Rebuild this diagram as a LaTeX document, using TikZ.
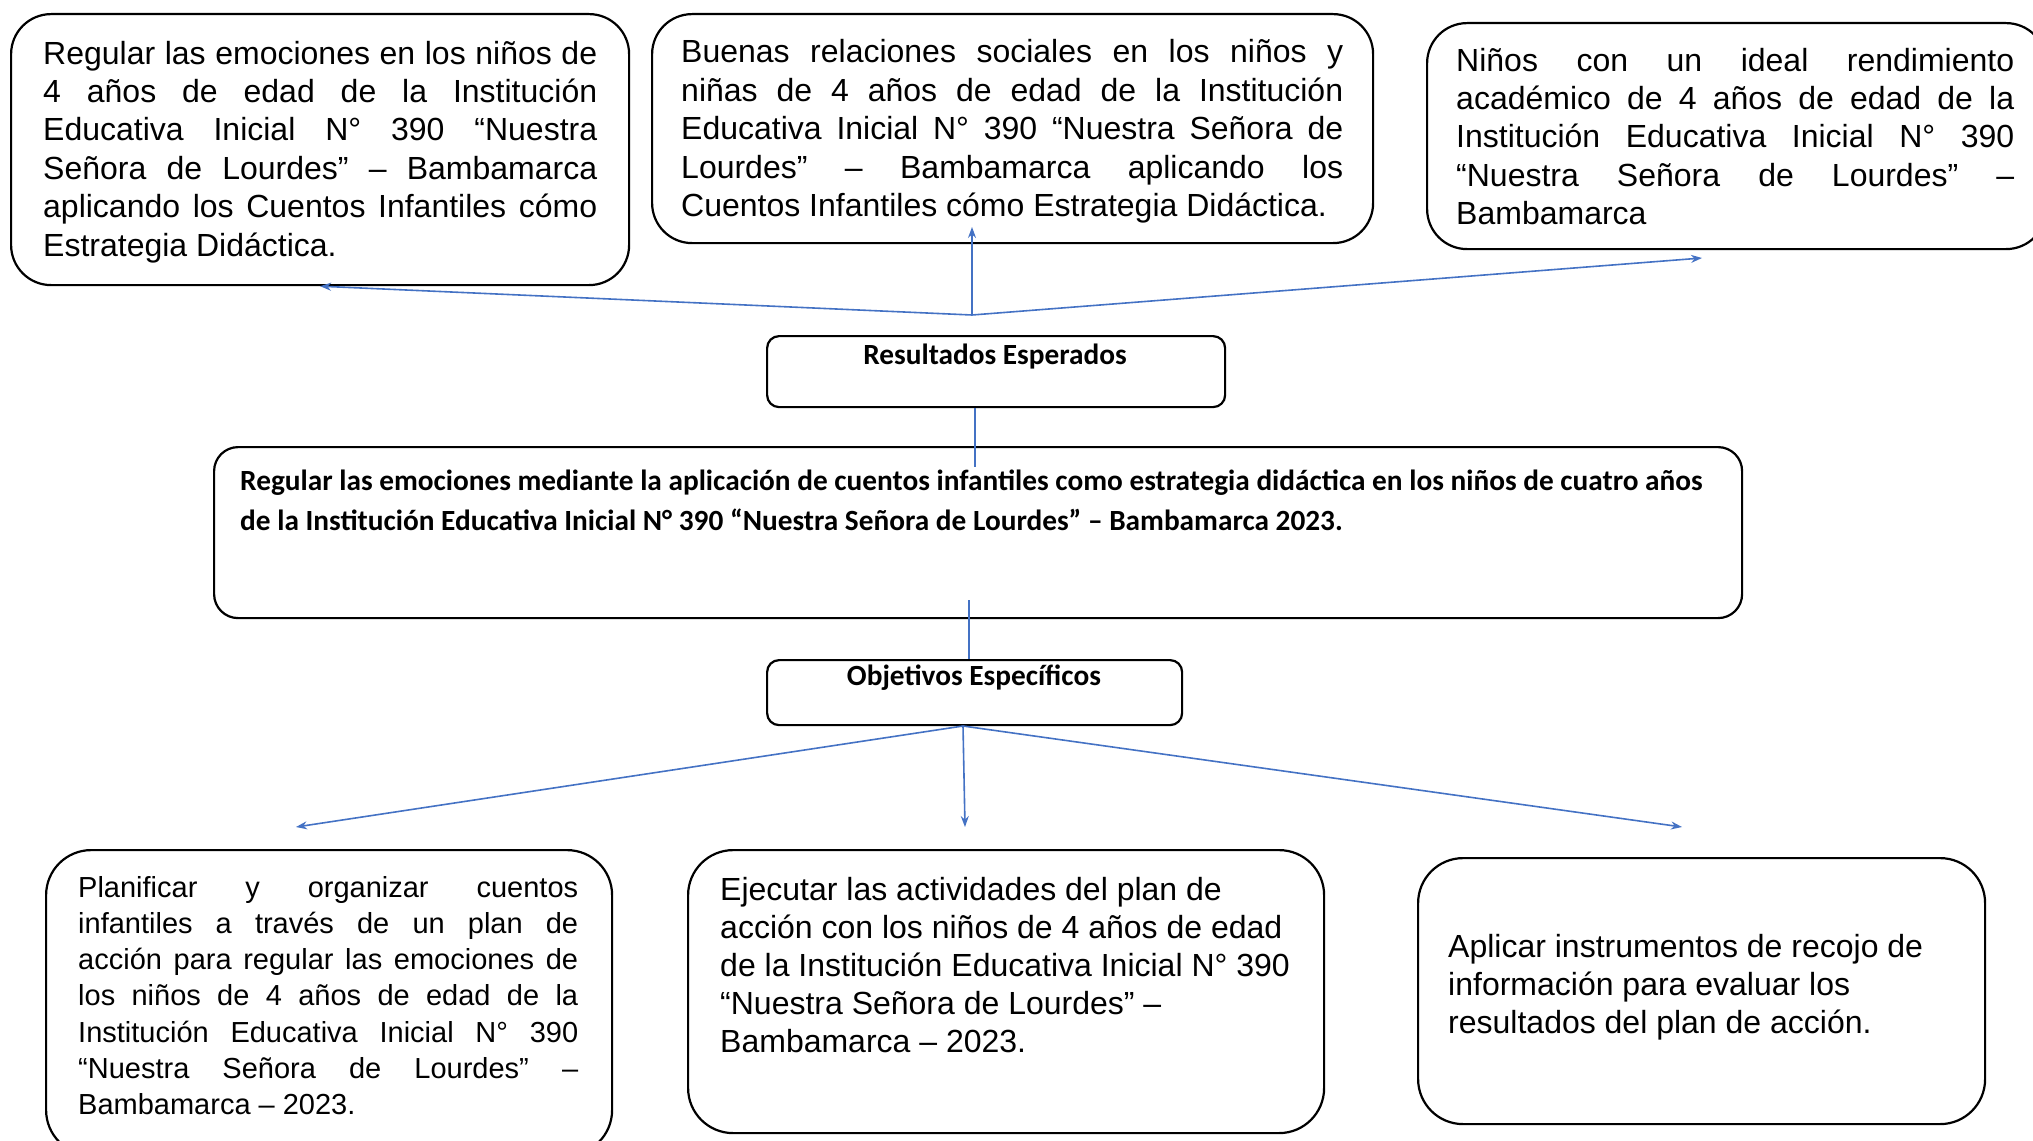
\documentclass[tikz,border=0pt]{standalone}
\usepackage{fontspec}
\setmainfont{Liberation Sans}
\newfontfamily\carlito{Carlito}
\usetikzlibrary{arrows.meta}

\definecolor{azul}{RGB}{68,114,196}

\newcommand{\parrafo}[2]{\parbox[t]{#1}{\hyphenpenalty=10000 #2}}
\newcommand{\parrafoizq}[2]{\parbox[t]{#1}{\raggedright #2}}

\tikzset{
  caja/.style={draw=black, line width=2.2pt, rounded corners=#1, inner sep=0pt, anchor=north west},
  caja/.default=40pt,
  texto/.style={anchor=base west, inner sep=0pt},
  flecha/.style={draw=azul, line width=1.6pt, -{Stealth[length=11pt,width=8pt]}},
  linea/.style={draw=azul, line width=1.4pt}
}

\begin{document}
\begin{tikzpicture}[x=1pt,y=-1pt]
  \useasboundingbox (0,0) rectangle (2033,1140);

  % cajas de resultados
  \node[caja, minimum width=618pt, minimum height=271pt] (res1) at (10,13) {};
  \node[caja, minimum width=721pt, minimum height=229pt] (res2) at (651,13) {};
  \node[caja, minimum width=619pt, minimum height=226pt] (res3) at (1426,22) {};

  \begin{scope}[font=\fontsize{32pt}{38.4pt}\selectfont]
    \node[texto] (tres1) at (43,64) {\parrafo{554pt}{Regular las emociones en los niños de\linebreak
      4 años de edad de la Institución\linebreak
      Educativa Inicial N° 390 “Nuestra\linebreak
      Señora de Lourdes” – Bambamarca\linebreak
      aplicando los Cuentos Infantiles cómo\linebreak
      Estrategia Didáctica.}};
    \node[texto] (tres2) at (681,63) {\parrafo{662pt}{Buenas relaciones sociales en los niños y\linebreak
      niñas de 4 años de edad de la Institución\linebreak
      Educativa Inicial N° 390 “Nuestra Señora de\linebreak
      Lourdes” – Bambamarca aplicando los\linebreak
      Cuentos Infantiles cómo Estrategia Didáctica.}};
    \node[texto] (tres3) at (1456,71) {\parrafo{558pt}{Niños con un ideal rendimiento\linebreak
      académico de 4 años de edad de la\linebreak
      Institución Educativa Inicial N° 390\linebreak
      “Nuestra Señora de Lourdes” –\linebreak
      Bambamarca}};
  \end{scope}

  % centro
  \node[caja=12pt, minimum width=458pt, minimum height=71pt] (esperados) at (766,335) {};
  \node[caja=24pt, minimum width=1528pt, minimum height=171pt] (general) at (213,446) {};
  \node[caja=12pt, minimum width=415pt, minimum height=65pt] (objetivos) at (766,659) {};

  \begin{scope}[font=\carlito\bfseries\fontsize{29.3pt}{40pt}\selectfont]
    \node[inner sep=0pt, anchor=base] (tesperados) at (995,364) {Resultados Esperados};
    \node[texto] (tgeneral) at (240,490) {\parrafoizq{1490pt}{Regular las emociones mediante la aplicación de cuentos infantiles como estrategia didáctica en los niños de cuatro años\\
      de la Institución Educativa Inicial N° 390 “Nuestra Señora de Lourdes” – Bambamarca 2023.}};
    \node[inner sep=0pt, anchor=base] (tobjetivos) at (974,685) {Objetivos Específicos};
  \end{scope}

  % objetivos especificos
  \node[caja=45pt, minimum width=566pt, minimum height=305pt] (obj1) at (45,849) {};
  \node[caja=45pt, minimum width=636pt, minimum height=283pt] (obj2) at (687,849) {};
  \node[caja=45pt, minimum width=567pt, minimum height=266pt] (obj3) at (1417,857) {};

  \node[texto, font=\fontsize{29pt}{36.3pt}\selectfont] (tobj1) at (78,897) {\parrafo{500pt}{Planificar y organizar cuentos\linebreak
    infantiles a través de un plan de\linebreak
    acción para regular las emociones de\linebreak
    los niños de 4 años de edad de la\linebreak
    Institución Educativa Inicial N° 390\linebreak
    “Nuestra Señora de Lourdes” –\linebreak
    Bambamarca – 2023.}};
  \begin{scope}[font=\fontsize{32pt}{38.2pt}\selectfont]
    \node[texto] (tobj2) at (720,900) {\parrafoizq{600pt}{Ejecutar las actividades del plan de\\
      acción con los niños de 4 años de edad\\
      de la Institución Educativa Inicial N° 390\\
      “Nuestra Señora de Lourdes” –\\
      Bambamarca – 2023.}};
    \node[texto] (tobj3) at (1448,957) {\parrafoizq{520pt}{Aplicar instrumentos de recojo de\\
      información para evaluar los\\
      resultados del plan de acción.}};
  \end{scope}

  % conectores
  \coordinate (union) at (972,315);
  \coordinate (p2) at (972,227);
  \coordinate (p3) at (1702,258);
  \draw[flecha] (union) -- (res1.south);
  \draw[flecha] (union) -- (p2);
  \draw[flecha] (union) -- (p3);

  \coordinate (v1) at (975,467);
  \draw[linea] (esperados.south -| v1) -- (v1);
  \coordinate (v2) at (969,600);
  \draw[linea] (v2) -- (v2 |- objetivos.north);

  \coordinate (rama) at (963,726);
  \coordinate (q1) at (296,827);
  \coordinate (q2) at (965,827);
  \coordinate (q3) at (1682,827);
  \draw[flecha] (rama) -- (q1);
  \draw[flecha] (rama) -- (q2);
  \draw[flecha] (rama) -- (q3);
\end{tikzpicture}
\end{document}
